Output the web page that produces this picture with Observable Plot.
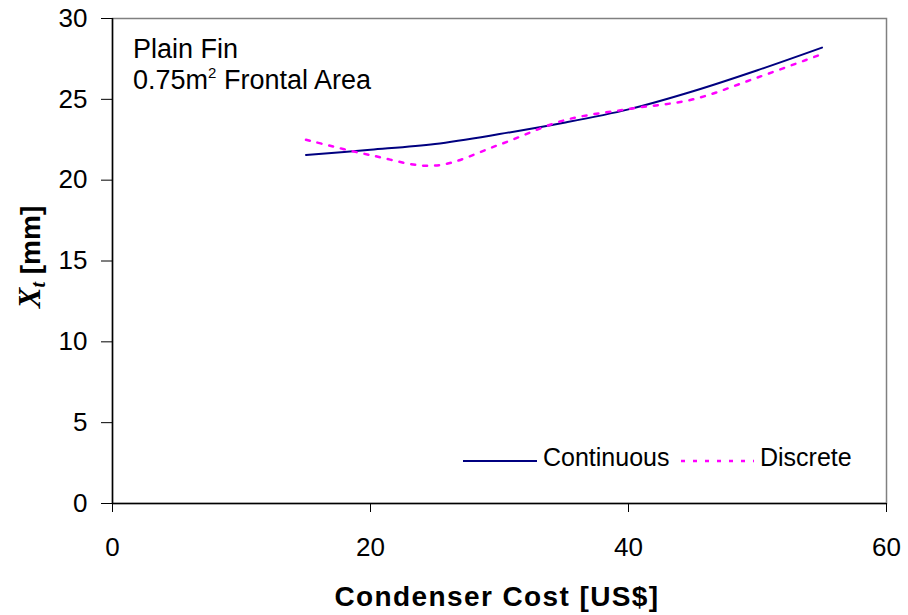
<!DOCTYPE html>
<html>
<head>
<meta charset="utf-8">
<script src="https://cdn.jsdelivr.net/npm/d3@7"></script>
<script src="https://cdn.jsdelivr.net/npm/@observablehq/plot@0.6"></script>
<style>
  html, body { margin: 0; padding: 0; background: #fff; }
  #chart { position: relative; width: 908px; height: 615px; }
  svg { font-family: "Liberation Sans", Arial, sans-serif; }
</style>
</head>
<body>
<div id="chart"></div>
<script>
// Condenser cost (US$) sampled for both optimisation approaches
const cost = [15, 20, 25, 30, 35, 40, 45, 50, 55];
// Tube pitch X_t (mm) from the continuous optimisation
const continuous = [21.56, 21.88, 22.24, 22.85, 23.55, 24.38, 25.5, 26.8, 28.2];
// Tube pitch X_t (mm) from the discrete optimisation
const discrete = [22.5, 21.55, 20.9, 22.2, 23.7, 24.4, 25.0, 26.35, 27.8];

const xTicks = [0, 20, 40, 60];
const yTicks = [0, 5, 10, 15, 20, 25, 30];

const seriesNames = ["Continuous", "Discrete"];
const seriesColors = ["#000080", "#ff00ff"];
const dotted = "4,8";

const rows = [];
cost.forEach((c, i) => {
  rows.push({cost: c, xt: continuous[i], series: seriesNames[0]});
  rows.push({cost: c, xt: discrete[i], series: seriesNames[1]});
});

const W = 908, H = 615;
const chart = Plot.plot({
  width: W,
  height: H,
  marginLeft: 112,
  marginRight: 22,
  marginTop: 18,
  marginBottom: 112,
  style: {fontFamily: "Liberation Sans, Arial, sans-serif", fontSize: "26px", background: "#fff", color: "#000"},
  x: {domain: [0, 60]},
  y: {domain: [0, 30]},
  marks: [
    Plot.frame({stroke: "#808080", strokeWidth: 1.5}),
    Plot.ruleX([0], {stroke: "#000", strokeWidth: 1.5}),
    Plot.ruleY([0], {stroke: "#000", strokeWidth: 1.5}),
    Plot.axisX({ticks: xTicks, tickSize: 9, tickPadding: 25, label: null, fontSize: 26}),
    Plot.axisY({ticks: yTicks, tickSize: 11, tickPadding: 14, label: null, fontSize: 26}),
    Plot.line(rows.filter(d => d.series === "Continuous"), {
      x: "cost", y: "xt", stroke: seriesColors[0], strokeWidth: 2, curve: "catmull-rom"
    }),
    Plot.line(rows.filter(d => d.series === "Discrete"), {
      x: "cost", y: "xt", stroke: seriesColors[1], strokeWidth: 2.5,
      strokeDasharray: dotted, curve: "catmull-rom"
    })
  ]
});
document.getElementById("chart").appendChild(chart);

const svg = d3.select(chart);

// Annotation in the upper-left corner
svg.append("text")
  .attr("x", 133).attr("y", 58)
  .attr("text-anchor", "start").attr("font-size", 27).attr("fill", "#000")
  .text("Plain Fin");
const l2 = svg.append("text")
  .attr("x", 133).attr("y", 89)
  .attr("text-anchor", "start").attr("font-size", 27).attr("fill", "#000");
l2.append("tspan").text("0.75m");
l2.append("tspan").attr("font-size", 15).attr("dy", -11).text("2");
l2.append("tspan").attr("dy", 11).text(" Frontal Area");

// X axis title
svg.append("text")
  .attr("x", 497).attr("y", 606)
  .attr("text-anchor", "middle")
  .attr("font-size", 28).attr("font-weight", "bold")
  .attr("letter-spacing", 1.4)
  .text("Condenser Cost [US$]");

// Y axis title: X_t [mm]
const yt = svg.append("text")
  .attr("transform", "translate(40,257) rotate(-90)")
  .attr("text-anchor", "middle")
  .attr("font-size", 28).attr("font-weight", "bold");
yt.append("tspan").attr("font-family", "Liberation Serif, Times New Roman, serif")
  .attr("font-style", "italic").attr("font-size", 31).text("X");
yt.append("tspan").attr("font-family", "Liberation Serif, Times New Roman, serif")
  .attr("font-style", "italic").attr("font-size", 20).attr("dy", 5).text("t");
yt.append("tspan").attr("dy", -5).text(" [mm]");

// Legend
const legend = svg.append("g");
const items = [
  {name: seriesNames[0], color: seriesColors[0], x0: 463, x1: 537, tx: 543, dash: null, width: 2},
  {name: seriesNames[1], color: seriesColors[1], x0: 681, x1: 754, tx: 760, dash: dotted, width: 2.5}
];
items.forEach(it => {
  legend.append("line")
    .attr("x1", it.x0).attr("x2", it.x1)
    .attr("y1", 461).attr("y2", 461)
    .attr("stroke", it.color).attr("stroke-width", it.width)
    .attr("stroke-dasharray", it.dash);
  legend.append("text")
    .attr("x", it.tx).attr("y", 466)
    .attr("text-anchor", "start")
    .attr("font-size", 25).attr("fill", "#000")
    .text(it.name);
});
</script>
</body>
</html>
